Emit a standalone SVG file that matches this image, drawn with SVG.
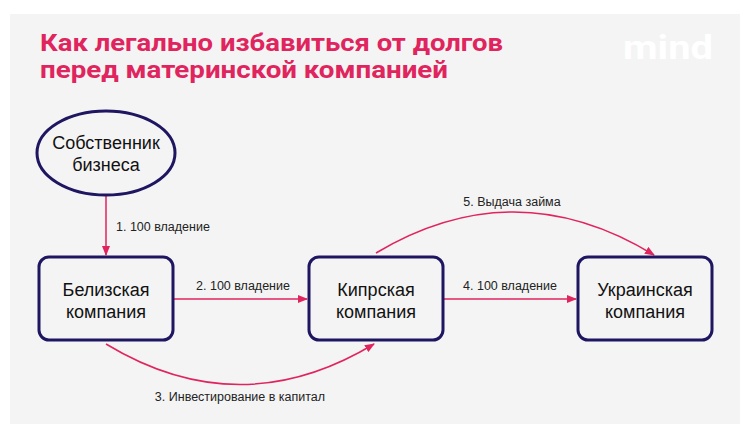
<svg xmlns="http://www.w3.org/2000/svg" width="750" height="436" viewBox="0 0 750 436">
<style>
.n{fill:#f4f4f4;stroke:#1e1660;stroke-width:3}
.t{font-family:"Liberation Sans",Arial,sans-serif;font-size:18px;fill:#111;text-anchor:middle}
.l{font-family:"Liberation Sans",Arial,sans-serif;font-size:12.5px;fill:#222}
.c{fill:none;stroke:#e0245e;stroke-width:1.5;marker-end:url(#a)}
</style>
<defs><marker id="a" markerWidth="10" markerHeight="8" refX="9" refY="4" orient="auto" markerUnits="userSpaceOnUse"><path d="M0,0L10,4L0,8Z" fill="#e0245e"/></marker></defs>
<rect width="750" height="436" fill="#fff"/>
<rect x="10" y="14" width="730" height="410" fill="#f4f4f4"/>
<text x="40" y="51" font-family="Roboto,'Liberation Sans',sans-serif" font-weight="bold" font-size="24" fill="#e0245e" textLength="463" lengthAdjust="spacingAndGlyphs">Как легально избавиться от долгов</text>
<text x="40" y="78" font-family="Roboto,'Liberation Sans',sans-serif" font-weight="bold" font-size="24" fill="#e0245e" textLength="408" lengthAdjust="spacingAndGlyphs">перед материнской компанией</text>
<text x="668" y="59" font-family="Roboto,'Liberation Sans',sans-serif" font-weight="bold" font-size="34" fill="#fff" text-anchor="middle" textLength="90" lengthAdjust="spacingAndGlyphs">mind</text>
<g id="connectors">
<line class="c" x1="106" y1="196" x2="106" y2="255"/>
<line class="c" x1="174" y1="299" x2="307" y2="299"/>
<path class="c" d="M106,344 Q240,425 374,344"/>
<line class="c" x1="444" y1="299" x2="576" y2="299"/>
<path class="c" d="M376,253 Q515,170 654,255"/>
<text class="l" x="116" y="231">1. 100 владение</text>
<text class="l" x="243" y="290" text-anchor="middle">2. 100 владение</text>
<text class="l" x="240" y="401" text-anchor="middle">3. Инвестирование в капитал</text>
<text class="l" x="510" y="290" text-anchor="middle">4. 100 владение</text>
<text class="l" x="512" y="206" text-anchor="middle">5. Выдача займа</text>
</g>
<g id="owner"><ellipse class="n" cx="106" cy="153" rx="69" ry="42"/><text class="t" x="106" y="149">Собственник</text><text class="t" x="106" y="171">бизнеса</text></g>
<g id="belize"><rect class="n" x="39" y="257" width="134" height="83" rx="10"/><text class="t" x="106" y="296">Белизская</text><text class="t" x="106" y="318">компания</text></g>
<g id="cyprus"><rect class="n" x="309" y="257" width="134" height="83" rx="10"/><text class="t" x="376" y="296">Кипрская</text><text class="t" x="376" y="318">компания</text></g>
<g id="ukraine"><rect class="n" x="578" y="257" width="134" height="83" rx="10"/><text class="t" x="645" y="296">Украинская</text><text class="t" x="645" y="318">компания</text></g>
</svg>
